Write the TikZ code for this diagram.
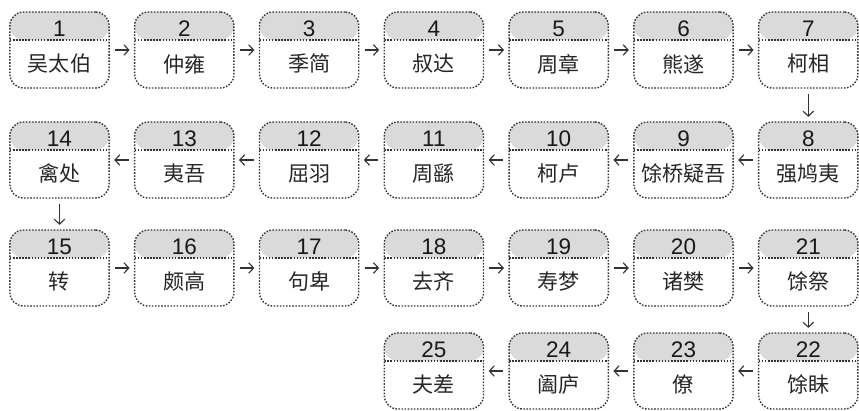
\documentclass[tikz,border=0pt]{standalone}
\usepackage{fontspec}
\setmainfont{Liberation Sans}
\newfontfamily\cjk{Noto Sans CJK SC}
\usepackage{tikz}
\usetikzlibrary{arrows.meta}

\definecolor{cabecera}{HTML}{DADADA}
\definecolor{borde}{HTML}{333333}

\tikzset{
  caja/.style={draw=borde, line width=1pt, dash pattern=on 1.1pt off 1.1pt,
    rounded corners=0.34cm, minimum width=2.48cm, minimum height=1.9cm, inner sep=0pt,
    path picture={
      \fill[cabecera] (path picture bounding box.north west) rectangle ([yshift=-0.7cm]path picture bounding box.north east);
      \draw[borde, line width=1pt, dash pattern=on 1.1pt off 1.1pt] ([yshift=-0.7cm]path picture bounding box.north west) -- ([yshift=-0.7cm]path picture bounding box.north east);
    }},
  numero/.style={font=\fontsize{16}{18}\selectfont, inner sep=0pt, text=black!90},
  nombre/.style={font=\cjk\fontsize{15}{17}\selectfont, inner sep=0pt, text=black!85},
  flecha/.style={-{Straight Barb[length=3.5pt,width=7.5pt]}, borde, line width=0.8pt, shorten >=0.11cm, shorten <=0.13cm},
}

\begin{document}
\begin{tikzpicture}[x=0.025cm, y=-0.025cm]
  \useasboundingbox (0,0) rectangle (859,410);
  % cajas: numero / columna / fila / nombre
  \foreach \n/\c/\y/\nm in {1/0/50/吴太伯, 2/1/50/仲雍, 3/2/50/季简, 4/3/50/叔达, 5/4/50/周章, 6/5/50/熊遂, 7/6/50/柯相,
      8/6/160/强鸠夷, 9/5/160/馀桥疑吾, 10/4/160/柯卢, 11/3/160/周繇, 12/2/160/屈羽, 13/1/160/夷吾, 14/0/160/禽处,
      15/0/268/转, 16/1/268/颇高, 17/2/268/句卑, 18/3/268/去齐, 19/4/268/寿梦, 20/5/268/诸樊, 21/6/268/馀祭,
      22/6/371/馀眛, 23/5/371/僚, 24/4/371/阖庐, 25/3/371/夫差}
  {
    \node[caja] (b\n) at (59.5+124.8*\c, \y) {};
    \node[numero] (n\n) at ([yshift=-0.43cm]b\n.north) {\n};
    \node[nombre] (t\n) at ([yshift=0.62cm]b\n.south) {\nm};
  }
  % flechas
  \foreach \a [evaluate=\a as \b using int(\a+1)] in {1,...,24}
    \draw[flecha] (b\a) -- (b\b);
\end{tikzpicture}
\end{document}
